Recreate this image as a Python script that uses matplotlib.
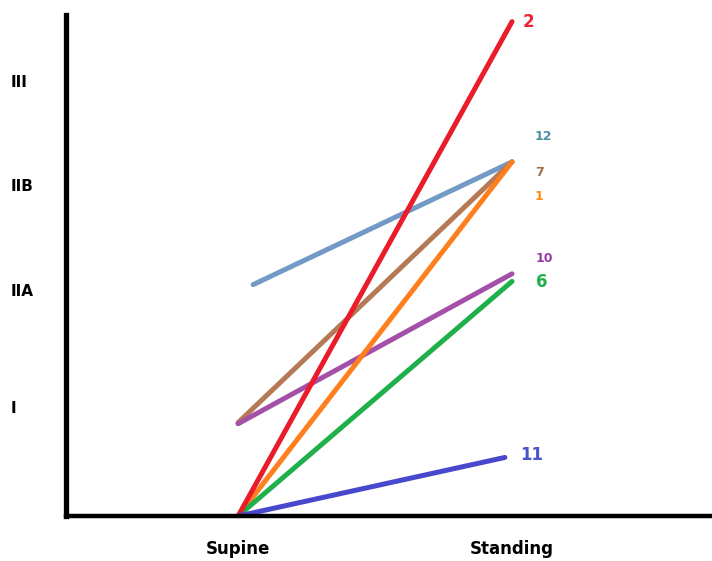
import matplotlib.pyplot as plt

# Stage scale: 0 = baseline, 1 = I, 2 = IIA, 3 = IIB, 4 = III
stage_labels = ['I', 'IIA', 'IIB', 'III']
stage_pos = [1.0, 2.08, 3.05, 4.0]
positions = ['Supine', 'Standing']

patients = ['2', '12', '7', '1', '10', '6', '11']
supine = [0.0, 2.13, 0.86, 0.0, 0.85, 0.0, 0.0]
standing = [4.55, 3.26, 3.26, 3.26, 2.23, 2.16, 0.54]
x_start = [1.0, 1.055, 1.0, 1.0, 1.0, 1.0, 1.0]
x_end = [2.0, 2.0, 2.0, 2.0, 2.0, 2.0, 1.974]

line_colors = {'2': '#ea1c2a', '12': '#7399c6', '7': '#b57a55', '1': '#ff7f1e',
               '10': '#a550a8', '6': '#20b04b', '11': '#4848cc'}
label_colors = {'2': '#ee2233', '12': '#4f8fa8', '7': '#a07045', '1': '#ff8c10',
                '10': '#9a3aa8', '6': '#22b04a', '11': '#4a55cc'}
label_offset = {'2': (11, 0), '12': (23, 25), '7': (23, -11), '1': (23, -35),
                '10': (24, 15), '6': (24, -1), '11': (15, 2)}
label_size = {'2': 12, '12': 9, '7': 9, '1': 9, '10': 9, '6': 12, '11': 12}
draw_order = ['12', '7', '10', '1', '6', '2', '11']

fig = plt.figure(figsize=(7.12, 5.61), dpi=100)
ax = fig.add_axes([0.0927, 0.080, 0.9073, 0.893])

for p in draw_order:
    i = patients.index(p)
    ax.plot([x_start[i], x_end[i]], [supine[i], standing[i]], color=line_colors[p],
            linewidth=3.6, solid_capstyle='round')
    ax.annotate(p, (x_end[i], standing[i]), xytext=label_offset[p],
                textcoords='offset pixels', ha='left', va='center',
                color=label_colors[p], fontsize=label_size[p], fontweight='bold')

ax.set_xlim(0.372, 2.73)
ax.set_ylim(0, 4.61)

for s in ['top', 'right']:
    ax.spines[s].set_visible(False)
ax.spines['left'].set_linewidth(3.8)
ax.spines['bottom'].set_linewidth(3.2)

ax.set_xticks([1, 2])
ax.set_xticklabels(positions, fontsize=12, fontweight='bold')
ax.tick_params(axis='x', length=0, pad=17)
ax.set_yticks(stage_pos)
ax.set_yticklabels(stage_labels, fontsize=11, fontweight='bold', ha='left')
ax.tick_params(axis='y', length=0, pad=40)

fig.savefig('out.png', dpi=100)
